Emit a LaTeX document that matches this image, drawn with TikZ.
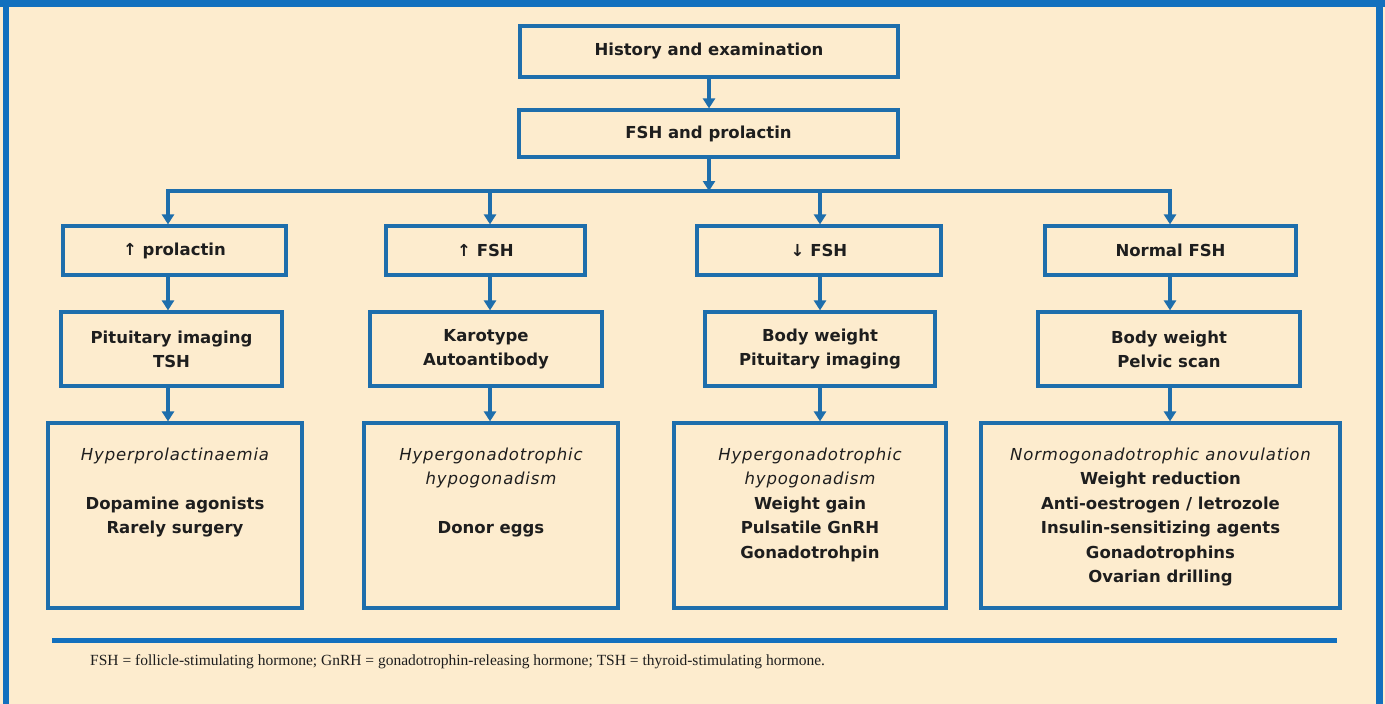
\documentclass[tikz,border=0pt]{standalone}
\usepackage{fontspec}
\setmainfont{Liberation Serif}
\newfontfamily\boxfont{DejaVu Sans}
\newfontfamily\diagfont{DejaVu Sans}[LetterSpace=5]
\usetikzlibrary{arrows.meta}
\definecolor{bgpeach}{RGB}{253,236,206}
\definecolor{frameblue}{RGB}{18,112,190}
\definecolor{lineblue}{RGB}{30,110,172}
\definecolor{txt}{RGB}{30,30,30}
\newcommand\dgn{\diagfont\mdseries\itshape}
\begin{document}
\begin{tikzpicture}[x=1pt,y=-1pt,
  box/.style={draw=lineblue, line width=3.2pt, inner sep=0pt, text=txt, align=center,
    font=\boxfont\bfseries\fontsize{16.5}{24}\selectfont},
  bigbox/.style={box, minimum height=185pt, font=\boxfont\bfseries\fontsize{16.5}{24.5}\selectfont},
  arr/.style={draw=lineblue, line width=3.2pt, -{Triangle[width=12pt,length=10pt]}},
  ln/.style={draw=lineblue, line width=3.2pt}]
\useasboundingbox (0,0) rectangle (1385,704);
\fill[bgpeach] (0,0) rectangle (1385,704);
\fill[frameblue] (0,0) rectangle (1385,7);
\fill[frameblue] (3,0) rectangle (9,704);
\fill[frameblue] (1376,0) rectangle (1383,704);

% top
\node[box, minimum width=378pt, minimum height=51pt] (hist) at (709,51.5) {History and examination};
\node[box, minimum width=379pt, minimum height=47pt] (fsh) at (708.5,133.5) {FSH and prolactin};
\coordinate (bus) at (709,191);
\coordinate (cA) at (168,191);
\coordinate (cB) at (490,191);
\coordinate (cC) at (820,191);
\coordinate (cD) at (1170,191);

% row 1
\node[box, minimum width=223pt, minimum height=49pt] (r1a) at (174.5,250.5) {↑ prolactin};
\node[box, minimum width=199pt, minimum height=49pt] (r1b) at (485.5,250.5) {↑ FSH};
\node[box, minimum width=244pt, minimum height=49pt] (r1c) at (819,250.5) {↓ FSH};
\node[box, minimum width=251pt, minimum height=49pt] (r1d) at (1170.5,250.5) {Normal FSH};

% row 2
\node[box, minimum width=221pt, minimum height=74pt] (r2a) at (171.5,349) {Pituitary imaging\\TSH};
\node[box, minimum width=232pt, minimum height=74pt] (r2b) at (486,349) {Karotype\\Autoantibody};
\node[box, minimum width=230pt, minimum height=74pt] (r2c) at (820,349) {Body weight\\Pituitary imaging};
\node[box, minimum width=262pt, minimum height=74pt] (r2d) at (1169,349) {Body weight\\Pelvic scan};

% row 3
\node[bigbox, minimum width=254pt] (r3a) at (175,515.5)
  {\parbox[c][136pt][t]{250pt}{\centering{\dgn Hyperprolactinaemia}\\[24.5pt]Dopamine agonists\\Rarely surgery}};
\node[bigbox, minimum width=254pt] (r3b) at (491,515.5)
  {\parbox[c][136pt][t]{250pt}{\centering{\dgn Hypergonadotrophic}\\{\dgn hypogonadism}\\[24.5pt]Donor eggs}};
\node[bigbox, minimum width=272pt] (r3c) at (810,515.5)
  {\parbox[c][136pt][t]{268pt}{\centering{\dgn Hypergonadotrophic}\\{\dgn hypogonadism}\\Weight gain\\Pulsatile GnRH\\Gonadotrohpin}};
\node[bigbox, minimum width=359pt] (r3d) at (1160.5,515.5)
  {\parbox[c][136pt][t]{355pt}{\centering{\dgn Normogonadotrophic anovulation}\\Weight reduction\\Anti-oestrogen / letrozole\\Insulin-sensitizing agents\\Gonadotrophins\\Ovarian drilling}};

% connectors
\draw[arr] (hist.south) -- (hist.south |- fsh.north);
\draw[arr] (fsh.south -| bus) -- (bus);
\draw[arr] (bus) -| (r1a.north -| cA);
\draw[arr] (bus) -| (r1d.north -| cD);
\draw[arr] (cB) -- (r1b.north -| cB);
\draw[arr] (cC) -- (r1c.north -| cC);
\foreach \c/\s in {cA/a,cB/b,cC/c,cD/d}{
  \draw[arr] (r1\s.south -| \c) -- (r2\s.north -| \c);
  \draw[arr] (r2\s.south -| \c) -- (r3\s.north -| \c);
}

% footer
\fill[frameblue] (52,638) rectangle (1337,643);
\node[anchor=west, inner sep=0pt, text=txt, font=\fontsize{15.5}{18}\selectfont] (note) at (90,662)
  {FSH = follicle-stimulating hormone; GnRH = gonadotrophin-releasing hormone; TSH = thyroid-stimulating hormone.};
\end{tikzpicture}
\end{document}
